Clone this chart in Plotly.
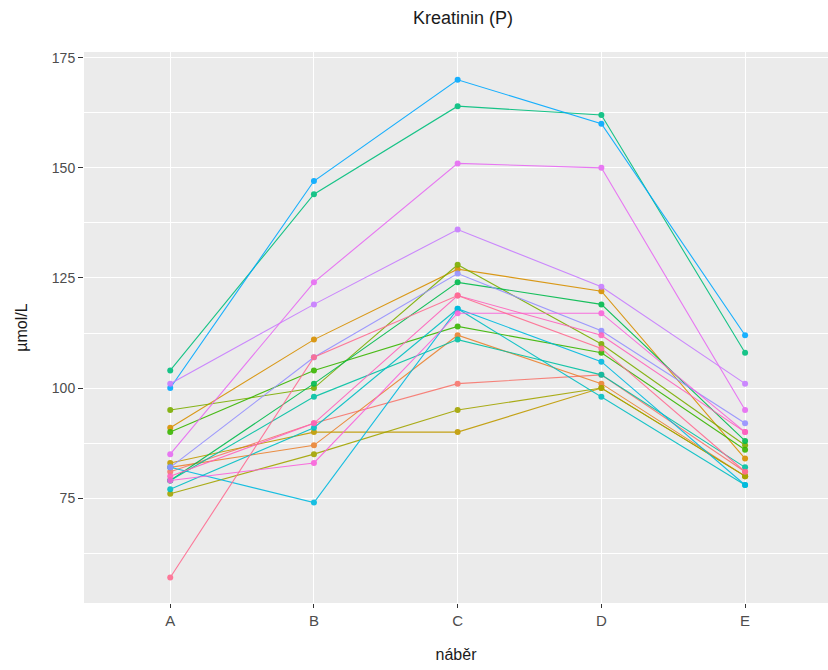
import plotly.graph_objects as go

# sampling times on the x axis
nabery = ["A", "B", "C", "D", "E"]

# creatinine (µmol/L) per subject across the five samplings
p01 = [81, 92, 101, 103, 81]
p02 = [82, 87, 112, 101, 80]
p03 = [91, 111, 127, 122, 84]
p04 = [83, 90, 90, 100, 80]
p05 = [76, 85, 95, 100, 80]
p06 = [95, 100, 128, 110, 87]
p07 = [90, 104, 114, 108, 86]
p08 = [79, 101, 124, 119, 88]
p09 = [104, 144, 164, 162, 108]
p10 = [79, 98, 111, 103, 82]
p11 = [77, 91, 118, 98, 78]
p12 = [82, 74, 118, 106, 78]
p13 = [100, 147, 170, 160, 112]
p14 = [82, 107, 126, 113, 92]
p15 = [101, 119, 136, 123, 101]
p16 = [85, 124, 151, 150, 95]
p17 = [79, 83, 117, 117, 90]
p18 = [80, 92, 121, 112, 90]
p19 = [57, 107, 121, 109, 81]

subjects = [p01, p02, p03, p04, p05, p06, p07, p08, p09, p10,
            p11, p12, p13, p14, p15, p16, p17, p18, p19]

# ggplot-style hue palette
colors = ["#F8766D", "#EA8331", "#D89000", "#C09B00", "#A3A500", "#7CAE00",
          "#39B600", "#00BB4E", "#00BF7D", "#00C1A3", "#00BFC4", "#00BAE0",
          "#00A9FF", "#9590FF", "#C77CFF", "#E76BF3", "#FA62DB", "#FF62BC",
          "#FF6C91"]

fig = go.Figure()
for vals, col in zip(subjects, colors):
    fig.add_trace(go.Scatter(
        x=nabery, y=vals, mode="lines+markers",
        line=dict(color=col, width=1.1),
        marker=dict(color=col, size=6),
        opacity=0.9,
        showlegend=False, hoverinfo="x+y",
    ))

tick_font = dict(family="Liberation Sans, Arial, sans-serif", color="#4D4D4D")

fig.update_layout(
    width=828, height=670,
    margin=dict(l=84, r=0, t=52, b=67),
    paper_bgcolor="white",
    plot_bgcolor="#EBEBEB",
    font=dict(family="Liberation Sans, Arial, sans-serif", color="#1A1A1A"),
    title=dict(text="Kreatinin (P)", x=463 / 828, xref="container", xanchor="center",
               y=1 - 18 / 670, yref="container", yanchor="middle",
               font=dict(size=18, color="#1A1A1A")),
)

fig.update_xaxes(
    type="category", range=[-0.6, 4.577],
    showgrid=True, gridcolor="white", gridwidth=1.1,
    zeroline=False, showline=False,
    ticks="outside", ticklen=4, tickcolor="#333333", tickwidth=1,
    tickfont=dict(size=15, **tick_font),
    title=dict(text="náběr", font=dict(size=16, color="#1A1A1A"), standoff=20),
)

fig.update_yaxes(
    range=[51.2, 176.3],
    tickmode="array", tickvals=[75, 100, 125, 150, 175],
    showgrid=True, gridcolor="white", gridwidth=1.1,
    minor=dict(tickmode="array", tickvals=[62.5, 87.5, 112.5, 137.5, 162.5],
               showgrid=True, gridcolor="white", gridwidth=0.5, ticks=""),
    zeroline=False, showline=False,
    ticks="outside", ticklen=5, tickcolor="#333333", tickwidth=1,
    tickfont=dict(size=14, **tick_font),
    title=dict(text="µmol/L", font=dict(size=16, color="#1A1A1A"), standoff=20),
)

fig.write_html("out.html")
